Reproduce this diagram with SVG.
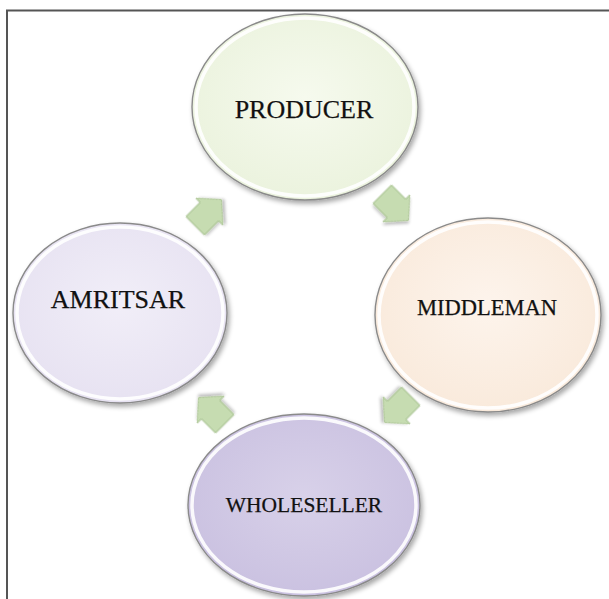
<svg xmlns="http://www.w3.org/2000/svg" width="609" height="599" viewBox="0 0 609 599">
  <style>
    .rim { stroke: #8a8a8a; stroke-width: 1.4; }
    .bevel { fill: none; stroke: #ffffff; stroke-width: 3.5; opacity: 0.9; }
    .label { font-family: "Liberation Serif", "Times New Roman", serif; fill: #111111; stroke: #111111; stroke-width: 0.25; text-anchor: middle; }
    .arrow { fill: #c6dcb1; stroke: #a7c28e; stroke-width: 1; filter: url(#soft); }
    .frame { stroke: #555555; stroke-width: 2; fill: none; }
  </style>
  <defs>
    <filter id="shadow" x="-20%" y="-20%" width="140%" height="140%">
      <feGaussianBlur in="SourceAlpha" stdDeviation="2.5"/>
      <feOffset dx="2" dy="3" result="b"/>
      <feComponentTransfer><feFuncA type="linear" slope="0.35"/></feComponentTransfer>
      <feMerge><feMergeNode/><feMergeNode in="SourceGraphic"/></feMerge>
    </filter>
    <filter id="soft" x="-30%" y="-30%" width="160%" height="160%">
      <feGaussianBlur in="SourceAlpha" stdDeviation="1.5"/>
      <feOffset dx="1.5" dy="2"/>
      <feComponentTransfer><feFuncA type="linear" slope="0.25"/></feComponentTransfer>
      <feMerge><feMergeNode/><feMergeNode in="SourceGraphic"/></feMerge>
    </filter>
    <radialGradient id="gGreen" cx="50%" cy="45%" r="60%">
      <stop offset="0" stop-color="#f6faee"/>
      <stop offset="1" stop-color="#eaf2dc"/>
    </radialGradient>
    <radialGradient id="gPeach" cx="50%" cy="45%" r="60%">
      <stop offset="0" stop-color="#fdf4ec"/>
      <stop offset="1" stop-color="#f9e9da"/>
    </radialGradient>
    <radialGradient id="gLilac" cx="50%" cy="45%" r="60%">
      <stop offset="0" stop-color="#f1eef8"/>
      <stop offset="1" stop-color="#e6e1f1"/>
    </radialGradient>
    <radialGradient id="gViolet" cx="50%" cy="45%" r="60%">
      <stop offset="0" stop-color="#d8d1e9"/>
      <stop offset="1" stop-color="#c9c0e0"/>
    </radialGradient>
    <!-- block arrow pointing along +x, centred on the origin -->
    <path id="blockArrow" d="M -18 -13 L 2 -13 L 2 -19 L 19 0 L 2 19 L 2 13 L -18 13 Z"/>
  </defs>

  <rect width="609" height="599" fill="#ffffff"/>
  <path class="frame" d="M 7 599 L 7 10.5 L 609 10.5"/>

  <g id="connectors">
    <use href="#blockArrow" class="arrow" transform="translate(395 207) rotate(45)"/>
    <use href="#blockArrow" class="arrow" transform="translate(398 409) rotate(135)"/>
    <use href="#blockArrow" class="arrow" transform="translate(212 411) rotate(225)"/>
    <use href="#blockArrow" class="arrow" transform="translate(208 213) rotate(-45)"/>
  </g>

  <g id="producer">
    <ellipse cx="305" cy="107" rx="113" ry="93" fill="url(#gGreen)" class="rim" filter="url(#shadow)"/>
    <ellipse cx="305" cy="107" rx="109" ry="89" class="bevel"/>
    <text class="label" x="304" y="118" font-size="26">PRODUCER</text>
  </g>

  <g id="middleman">
    <ellipse cx="488" cy="315" rx="113" ry="97" fill="url(#gPeach)" class="rim" filter="url(#shadow)"/>
    <ellipse cx="488" cy="315" rx="109" ry="93" class="bevel"/>
    <text class="label" x="487" y="315" font-size="22.5">MIDDLEMAN</text>
  </g>

  <g id="wholeseller">
    <ellipse cx="304" cy="505" rx="116" ry="91" fill="url(#gViolet)" class="rim" filter="url(#shadow)"/>
    <ellipse cx="304" cy="505" rx="112" ry="87" class="bevel"/>
    <text class="label" x="304" y="512" font-size="21.5">WHOLESELLER</text>
  </g>

  <g id="amritsar">
    <ellipse cx="120" cy="313" rx="107" ry="90" fill="url(#gLilac)" class="rim" filter="url(#shadow)"/>
    <ellipse cx="120" cy="313" rx="103" ry="86" class="bevel"/>
    <text class="label" x="118" y="308" font-size="26">AMRITSAR</text>
  </g>
</svg>
